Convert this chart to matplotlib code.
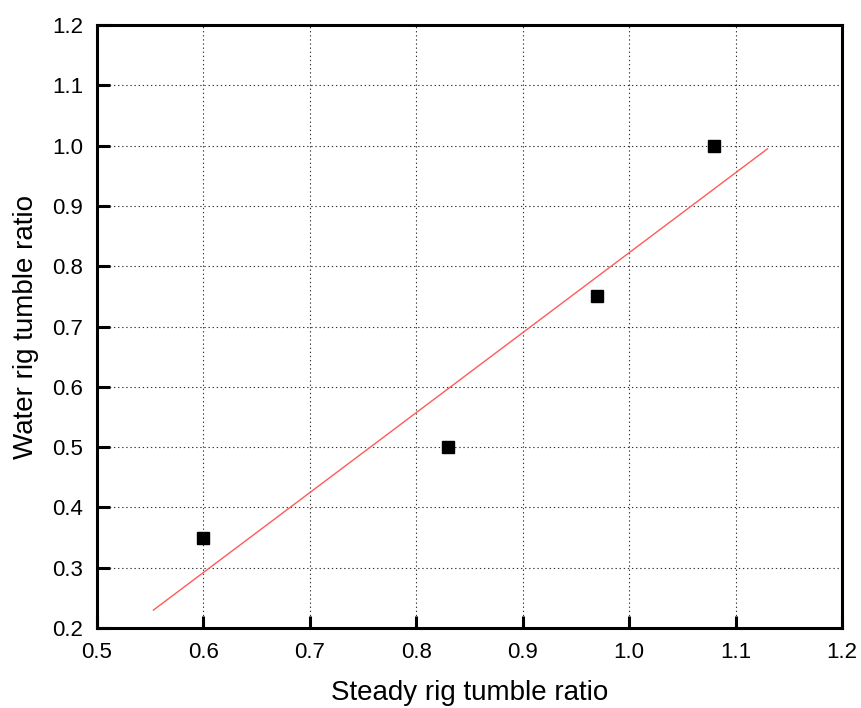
import numpy as np
import matplotlib
matplotlib.use("Agg")
import matplotlib.pyplot as plt

plt.rcParams['font.family'] = ['Liberation Sans', 'DejaVu Sans']

# Measured tumble ratios
steady_tr = [0.60, 0.83, 0.97, 1.08]
water_tr = [0.35, 0.50, 0.75, 1.00]

# Span of the least-squares fit line
fit_x_range = [0.553, 1.13]

x_ticks = [0.5, 0.6, 0.7, 0.8, 0.9, 1.0, 1.1, 1.2]
y_ticks = [0.2, 0.3, 0.4, 0.5, 0.6, 0.7, 0.8, 0.9, 1.0, 1.1, 1.2]

fig = plt.figure(figsize=(8.61, 7.08), dpi=100)
ax = fig.add_axes([97/861, 1 - 628/708, (842 - 97)/861, (628 - 25)/708])

slope, intercept = np.polyfit(steady_tr, water_tr, 1)
fx = np.array(fit_x_range)
ax.plot(fx, slope * fx + intercept, color='#ff5a5a', lw=1.0, zorder=3)

ax.plot(steady_tr, water_tr, 's', color='black', markersize=8, zorder=4)

ax.set_xlim(0.5, 1.2)
ax.set_ylim(0.2, 1.2)
ax.set_xticks(x_ticks)
ax.set_yticks(y_ticks)
ax.set_xticklabels([f"{v:.1f}" for v in x_ticks])
ax.set_yticklabels([f"{v:.1f}" for v in y_ticks])

ax.grid(True, color='#333333', linestyle=(0, (1.2, 2.5)), linewidth=0.8)
ax.set_axisbelow(True)

for s in ax.spines.values():
    s.set_linewidth(2.2)

ax.tick_params(direction='in', length=9, width=2.2, labelsize=16,
               pad=10, top=False, right=False)

ax.set_xlabel('Steady rig tumble ratio', fontsize=20, labelpad=12)
ax.set_ylabel('Water rig tumble ratio', fontsize=20, labelpad=9)

fig.savefig('out.png', dpi=100)
